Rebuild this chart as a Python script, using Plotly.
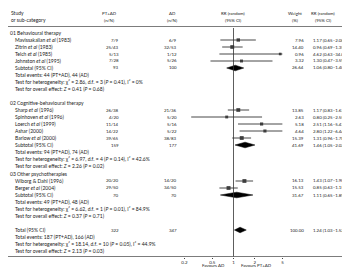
import plotly.graph_objects as go

W, H = 350, 268

# ---------------- data ----------------
group_titles = ["01 Behavioural therapy", "02 Cognitive-behavioural therapy", "03 Other psychotherapies"]

study_names = [
    ["Mavissakalian <i>et al</i> (1983)", "Zitrin <i>et al</i> (1983)", "Telch <i>et al</i> (1985)", "Johnston <i>et al</i> (1995)"],
    ["Sharp <i>et al</i> (1996)", "Spinhoven <i>et al</i> (1996)", "Loerch <i>et al</i> (1999)", "Ashar (2000)", "Barlow <i>et al</i> (2000)"],
    ["Wiborg &amp; Dahl (1996)", "Berger <i>et al</i> (2004)"],
]
pt_ad = [["7/9", "25/43", "5/13", "7/28"],
         ["26/38", "4/20", "11/14", "14/22", "39/65"],
         ["20/20", "29/50"]]
ad = [["6/9", "32/53", "1/12", "5/26"],
      ["21/36", "5/20", "5/16", "5/22", "38/83"],
      ["14/20", "34/50"]]
weights = [[7.96, 14.40, 0.96, 3.32],
           [13.85, 2.63, 5.18, 4.64, 15.39],
           [16.13, 15.53]]
rr = [[1.17, 0.96, 4.62, 1.30],
      [1.17, 0.80, 2.51, 2.80, 1.31],
      [1.43, 0.85]]
rr_lo = [[0.65, 0.69, 0.63, 0.47],
         [0.83, 0.25, 1.16, 1.22, 0.96],
         [1.07, 0.63]]
rr_hi = [[2.08, 1.35, 34.05, 3.59],
         [1.67, 2.55, 5.47, 6.44, 1.78],
         [1.90, 1.15]]

sub_n_pt = [93, 159, 70]
sub_n_ad = [100, 177, 70]
sub_w = [26.64, 41.69, 31.67]
sub_rr = [1.06, 1.46, 1.11]
sub_lo = [0.80, 1.05, 0.65]
sub_hi = [1.40, 2.02, 1.89]
events_txt = ["Total events: 44 (PT+AD), 44 (AD)",
              "Total events: 94 (PT+AD), 74 (AD)",
              "Total events: 49 (PT+AD), 48 (AD)"]
het_txt = ["Test for heterogeneity: χ² = 2.86, d.f. = 3 (<i>P</i> = 0.41), I² = 0%",
           "Test for heterogeneity: χ² = 6.97, d.f. = 4 (<i>P</i> = 0.14), I² = 42.6%",
           "Test for heterogeneity: χ² = 6.62, d.f. = 1 (<i>P</i> = 0.01), I² = 84.9%"]
overall_txt = ["Test for overall effect: <i>Z</i> = 0.41 (<i>P</i> = 0.68)",
               "Test for overall effect: <i>Z</i> = 2.26 (<i>P</i> = 0.02)",
               "Test for overall effect: <i>Z</i> = 0.37 (<i>P</i> = 0.71)"]

total_n_pt, total_n_ad = 322, 347
total_w = 100.00
total_rr, total_lo, total_hi = 1.24, 1.03, 1.52
total_events_txt = "Total events: 187 (PT+AD), 166 (AD)"
total_het_txt = "Test for heterogeneity: χ² = 18.14, d.f. = 10 (<i>P</i> = 0.05), I² = 44.9%"
total_overall_txt = "Test for overall effect: <i>Z</i> = 2.13 (<i>P</i> = 0.03)"

tick_vals = [0.2, 0.5, 1, 2, 5]
tick_text = ["0.2", "0.5", "1", "2", "5"]
axis_min, axis_max = 0.2, 5

# ---------------- layout helpers ----------------
FONT = "Lato, 'Liberation Sans', Arial, sans-serif"
FS = 5          # left text column
FN = 4.4        # numeric columns and right headers
TC = "#1a1a1a"
STEP = 7
group_start = [25, 95, 166]
total_start = 222
X_AXIS_PX = 248.5
TOP_LINE_PX = 18.5
X_LEFT, X_RIGHT = 176.4, 274.6

ann = []


def txt(x, y, s, anchor="left", size=FS, yanchor="middle"):
    ann.append(dict(x=x / W, y=(H - y) / H, xref="paper", yref="paper", text=s, showarrow=False,
                    xanchor=anchor, yanchor=yanchor, borderpad=0,
                    font=dict(size=size, family=FONT, color=TC)))


def fmt_ci(r, l, h):
    return f"{r:.2f} ({l:.2f}–{h:.2f})"


fig = go.Figure()

# header
txt(2, 5, "Study")
txt(2, 12, "or sub-category")
txt(101, 5, "PT+AD", "center", FN)
txt(101, 12, "(n/N)", "center", FN)
txt(164, 5, "AD", "center", FN)
txt(164, 12, "(n/N)", "center", FN)
txt(225, 5, "RR (random)", "center", FN)
txt(225, 12, "(95% CI)", "center", FN)
txt(287, 5, "Weight", "center", FN)
txt(287, 12, "(%)", "center", FN)
txt(315, 5, "RR (random)", "center", FN)
txt(315, 12, "(95% CI)", "center", FN)

C_PT, C_AD, C_W, C_RR = 111.5, 169.5, 297, 303.5

line_x, line_y = [], []
sq_x, sq_y, sq_s = [], [], []
arr_x, arr_y = [], []


def diamond(r, l, h, y, hh=2.8):
    fig.add_trace(go.Scatter(x=[l, r, h, r, l], y=[y, y - hh, y, y + hh, y], mode="lines",
                             fill="toself", fillcolor="#000000", line=dict(color="#000000", width=0.5),
                             hoverinfo="skip", showlegend=False))


for g in range(3):
    y = group_start[g]
    txt(0.5, y, group_titles[g])
    for i, name in enumerate(study_names[g]):
        y += STEP
        txt(6, y, name)
        txt(C_PT, y, pt_ad[g][i], "right", FN)
        txt(C_AD, y, ad[g][i], "right", FN)
        txt(C_W, y, f"{weights[g][i]:.2f}", "right", FN)
        txt(C_RR, y, fmt_ci(rr[g][i], rr_lo[g][i], rr_hi[g][i]), "left", FN)
        lo_c = max(rr_lo[g][i], axis_min)
        hi_c = min(rr_hi[g][i], axis_max)
        line_x += [lo_c, hi_c, None]
        line_y += [y, y, None]
        sq_x.append(rr[g][i])
        sq_y.append(y)
        sq_s.append(2.2 + 0.45 * weights[g][i] ** 0.5)
        if rr_hi[g][i] > axis_max:
            arr_x.append(axis_max)
            arr_y.append(y)
    y += STEP
    txt(6, y, "Subtotal (95% CI)")
    txt(C_PT, y, str(sub_n_pt[g]), "right", FN)
    txt(C_AD, y, str(sub_n_ad[g]), "right", FN)
    txt(C_W, y, f"{sub_w[g]:.2f}", "right", FN)
    txt(C_RR, y, fmt_ci(sub_rr[g], sub_lo[g], sub_hi[g]), "left", FN)
    diamond(sub_rr[g], sub_lo[g], sub_hi[g], y)
    y += STEP
    txt(6, y, events_txt[g])
    y += STEP
    txt(6, y, het_txt[g])
    y += STEP
    txt(6, y, overall_txt[g])

y = total_start
txt(6, y, "Total (95% CI)")
txt(C_PT, y, str(total_n_pt), "right", FN)
txt(C_AD, y, str(total_n_ad), "right", FN)
txt(C_W, y, f"{total_w:.2f}", "right", FN)
txt(C_RR, y, fmt_ci(total_rr, total_lo, total_hi), "left", FN)
diamond(total_rr, total_lo, total_hi, y)
txt(6, y + STEP, total_events_txt)
txt(6, y + 2 * STEP, total_het_txt)
txt(6, y + 3 * STEP, total_overall_txt)

fig.add_trace(go.Scatter(x=line_x, y=line_y, mode="lines", line=dict(color="#333333", width=0.9),
                         hoverinfo="skip", showlegend=False, cliponaxis=True))
fig.add_trace(go.Scatter(x=sq_x, y=sq_y, mode="markers",
                         marker=dict(symbol="square", size=sq_s, color="#111111", line=dict(width=0)),
                         hoverinfo="skip", showlegend=False, cliponaxis=False))
fig.add_trace(go.Scatter(x=arr_x, y=arr_y, mode="markers",
                         marker=dict(symbol="triangle-right", size=5, color="#111111", line=dict(width=0)),
                         hoverinfo="skip", showlegend=False, cliponaxis=False))

# favours labels
txt(218, 257.5, "Favours AD", "right", FN)
txt(232, 257.5, "Favours PT+AD", "left", FN)

shapes = [
    dict(type="line", xref="paper", yref="y", x0=0, x1=1, y0=TOP_LINE_PX, y1=TOP_LINE_PX,
         line=dict(color="#444444", width=0.7)),
    dict(type="line", xref="paper", yref="y", x0=0, x1=1, y0=X_AXIS_PX, y1=X_AXIS_PX,
         line=dict(color="#444444", width=0.7)),
    dict(type="line", xref="x", yref="y", x0=1, x1=1, y0=20, y1=X_AXIS_PX,
         line=dict(color="#333333", width=0.8)),
]

fig.update_layout(
    width=W, height=H, margin=dict(l=0, r=0, t=0, b=0, autoexpand=False),
    paper_bgcolor="white", plot_bgcolor="rgba(0,0,0,0)",
    showlegend=False, annotations=ann, shapes=shapes,
    xaxis=dict(type="log", range=[-0.69897, 0.69897], domain=[X_LEFT / W, X_RIGHT / W],
               anchor="free", position=(H - X_AXIS_PX) / H, automargin=False,
               tickvals=tick_vals, ticktext=tick_text, ticks="outside", ticklen=1, tickwidth=0.7,
               tickcolor="#444444", showline=False, showgrid=False, zeroline=False,
               tickfont=dict(size=FN, family=FONT, color=TC), fixedrange=True),
    yaxis=dict(range=[H, 0], domain=[0, 1], visible=False, fixedrange=True, automargin=False),
)

fig.write_html("out.html")
